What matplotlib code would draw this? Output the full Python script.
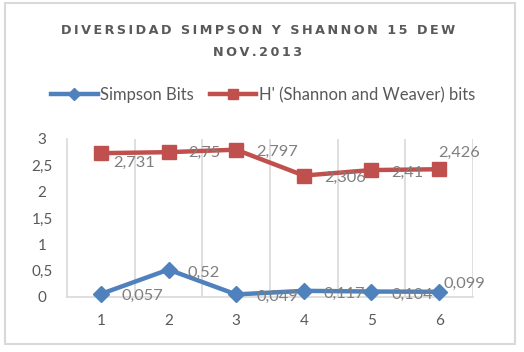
import matplotlib
matplotlib.use("Agg")
import matplotlib.pyplot as plt
from matplotlib.patches import Rectangle

categories = [1, 2, 3, 4, 5, 6]
simpson = [0.057, 0.52, 0.049, 0.117, 0.104, 0.099]
shannon = [2.731, 2.75, 2.797, 2.306, 2.41, 2.426]
simpson_labels = ["0,057", "0,52", "0,049", "0,117", "0,104", "0,099"]
shannon_labels = ["2,731", "2,75", "2,797", "2,306", "2,41", "2,426"]
yticks = [0, 0.5, 1, 1.5, 2, 2.5, 3]
ytick_labels = ["0", "0,5", "1", "1,5", "2", "2,5", "3"]
title_lines = ["DIVERSIDAD SIMPSON Y SHANNON 15 DEW", "NOV.2013"]

FONT = "Lato"
GRAY = "#595959"
LBL = "#7f7f7f"
BLUE = "#4F81BD"
RED = "#C0504D"

W, H = 524, 352
fig = plt.figure(figsize=(W / 100, H / 100), dpi=100)
px = 0.72  # points per pixel

# outer border
fig.patches.append(Rectangle((5 / W, 1 - 344 / H), 510 / W, 341 / H,
                             transform=fig.transFigure, fill=False,
                             edgecolor="#D9D9D9", linewidth=1.5))

ax = fig.add_axes([67 / W, 1 - 297 / H, (473 - 67) / W, (297 - 139) / H])
ax.set_xlim(0.5, 6.5)
ax.set_ylim(0, 3)
for s in ["top", "right"]:
    ax.spines[s].set_visible(False)
for s in ["left", "bottom"]:
    ax.spines[s].set_color("#D9D9D9")
    ax.spines[s].set_linewidth(1.2)
ax.set_xticks(categories)
ax.set_xticklabels([str(c) for c in categories], fontfamily=FONT, fontsize=11, color=GRAY)
ax.set_yticks(yticks)
ax.set_yticklabels(ytick_labels, fontfamily=FONT, fontsize=11, color=GRAY)
ax.tick_params(length=0)
ax.tick_params(axis="y", pad=18)
for lbl in ax.get_yticklabels():
    lbl.set_horizontalalignment("center")
ax.tick_params(axis="x", pad=12)
for xg in [1.5, 2.5, 3.5, 4.5, 5.5, 6.5]:
    ax.axvline(xg, color="#D9D9D9", linewidth=1.2, zorder=0)

l1, = ax.plot(categories, simpson, color=BLUE, linewidth=3.2, marker="D",
              markersize=8, label="Simpson Bits", zorder=3, clip_on=False)
l2, = ax.plot(categories, shannon, color=RED, linewidth=3.2, marker="s",
              markersize=10.5, label="H' (Shannon and Weaver) bits", zorder=3, clip_on=False)

# label offsets in pixels (dx to left edge, dy downward)
s_off = [(21, 2), (19, 3), (20, 2), (20, 3), (20, 3), (4, -8)]
h_off = [(12, 10), (20, 1), (20, 2), (20, 2), (20, 3), (-1, -16)]
for x, y, t, (dx, dy) in zip(categories, simpson, simpson_labels, s_off):
    ax.annotate(t, (x, y), xytext=(dx * px, -dy * px), textcoords="offset points",
                ha="left", va="center", fontfamily=FONT, fontsize=11.8, color=LBL, zorder=4)
for x, y, t, (dx, dy) in zip(categories, shannon, shannon_labels, h_off):
    ax.annotate(t, (x, y), xytext=(dx * px, -dy * px), textcoords="offset points",
                ha="left", va="center", fontfamily=FONT, fontsize=11.8, color=LBL, zorder=4)

# title with letter spacing (thin spaces between characters)
for line, ypix in zip(title_lines, [30, 52]):
    spaced = "\u2009".join(line)
    fig.text(258 / W, 1 - ypix / H, spaced,
             ha="center", va="center", fontfamily="DejaVu Sans", fontweight="bold",
             fontsize=9.2, color=GRAY)

leg = fig.legend(handles=[l1, l2], loc="center", bbox_to_anchor=(263 / W, 1 - 95 / H),
                 ncol=2, frameon=False, handlelength=2.8, handletextpad=0.15,
                 columnspacing=0.95, markerscale=0.75, prop={"family": FONT, "size": 12})
for t in leg.get_texts():
    t.set_color(GRAY)

fig.savefig("out.png", dpi=100)
